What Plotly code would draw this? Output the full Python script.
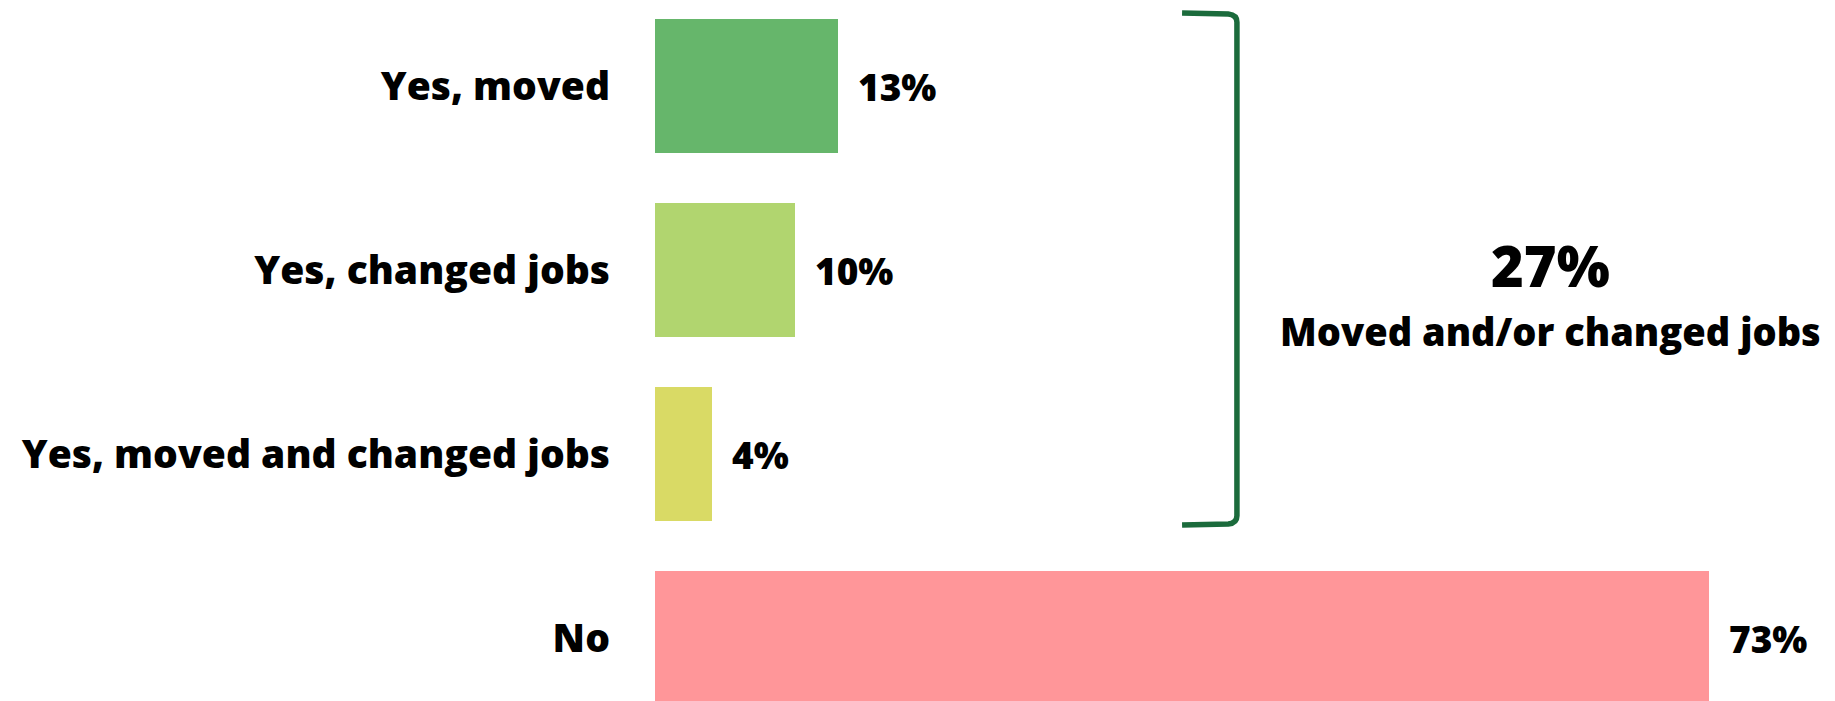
import plotly.graph_objects as go

categories = ["Yes, moved", "Yes, changed jobs", "Yes, moved and changed jobs", "No"]
values = [12.7, 9.7, 3.95, 73.0]
labels = ["13%", "10%", "4%", "73%"]
colors = ["#66B66B", "#B1D56F", "#D9DA65", "#FF9699"]
total_label = "27%"
total_caption = "Moved and/or changed jobs"

FONT = "Open Sans"
pos = list(range(len(categories)))

PX_PER_ROW = 184.0
ROW0_PX = 86.0
PAGE_OFF = 8.0  # browser body margin


def yv(px):
    return (px - ROW0_PX) / PX_PER_ROW


fig = go.Figure()
fig.add_trace(go.Bar(
    x=values, y=pos, orientation="h",
    marker=dict(color=colors, line=dict(width=0)),
    width=0.728, hoverinfo="skip",
))

for p, v, t in zip(pos, values, labels):
    fig.add_annotation(x=v, y=p, text=t, showarrow=False,
                       xanchor="left", yanchor="middle", xshift=18,
                       font=dict(family=FONT, size=37, weight=800, color="#000000"))

# bracket grouping the three "Yes" rows
x0, x1 = 36.5, 40.3
yt, yb = yv(13), yv(525)
path = (f"M {x0},{yt} L {x1-0.6},{yt+0.005} Q {x1},{yt+0.01} {x1},{yt+0.05} "
        f"L {x1},{yb-0.05} Q {x1},{yb-0.01} {x1-0.6},{yb-0.005} L {x0},{yb}")
fig.add_shape(type="path", path=path, xref="x", yref="y",
              line=dict(color="#1B6B3C", width=5.5))

fig.add_annotation(x=62.0, y=yv(265), xref="x", yref="y",
                   text=total_label, showarrow=False,
                   xanchor="center", yanchor="middle",
                   font=dict(family=FONT, size=56, weight=800, color="#000000"))
fig.add_annotation(x=62.0, y=yv(331), xref="x", yref="y",
                   text=total_caption, showarrow=False,
                   xanchor="center", yanchor="middle",
                   font=dict(family=FONT, size=38, weight=800, color="#000000"))

fig.update_layout(
    width=1835, height=701,
    margin=dict(l=647, r=0, t=0, b=0),
    paper_bgcolor="white", plot_bgcolor="white",
    showlegend=False, bargap=0,
    xaxis=dict(range=[0, 1188 / 14.44], visible=False, fixedrange=True),
    yaxis=dict(range=[yv(PAGE_OFF + 701), yv(PAGE_OFF)], tickmode="array", tickvals=pos,
               ticktext=categories,
               showgrid=False, zeroline=False, showline=False, ticks="",
               ticklabelstandoff=44, automargin=False,
               tickfont=dict(family=FONT, size=39, weight=800, color="#000000")),
)

fig.write_html("out.html")
